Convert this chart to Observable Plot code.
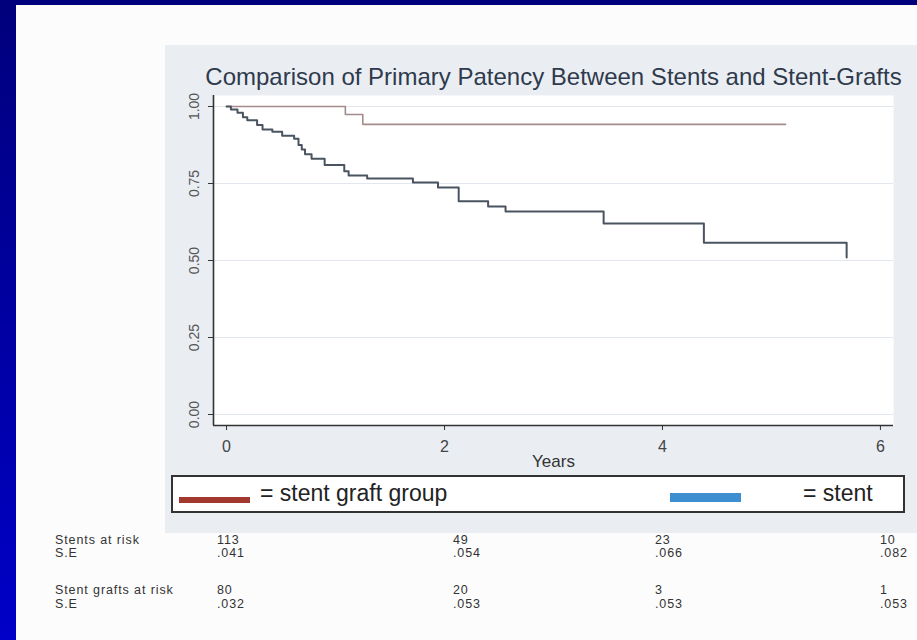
<!DOCTYPE html>
<html>
<head>
<meta charset="utf-8">
<script src="https://cdn.jsdelivr.net/npm/d3@7"></script>
<script src="https://cdn.jsdelivr.net/npm/@observablehq/plot@0.6"></script>
<style>
  html, body { margin: 0; padding: 0; width: 917px; height: 640px; overflow: hidden; background: #fff; }
  body { font-family: "Liberation Sans", Arial, sans-serif; }
  #page { position: relative; width: 917px; height: 640px; background: #fcfcfd; }
  .edge-left { position: absolute; left: 0; top: 0; width: 16px; height: 640px; background: linear-gradient(#00007c, #0000c8); }
  .edge-top { position: absolute; left: 0; top: 0; width: 917px; height: 5px; background: #00007c; }
  .region { position: absolute; left: 165px; top: 45px; width: 752px; height: 488px; background: #eaeef3; }
  #chart { position: absolute; left: 0; top: 0; }
  .legend { position: absolute; left: 171px; top: 475px; width: 730px; height: 34px; border: 2px solid #333; background: #fff; }
  .legend .sw { position: absolute; }
  .legend .lbl { position: absolute; font-size: 23px; color: #222; top: 3px; white-space: nowrap; }
  .risk { position: absolute; font-size: 12.5px; letter-spacing: 0.9px; color: #333; white-space: nowrap; line-height: 13px; }
</style>
</head>
<body>
<div id="page">
  <div class="edge-left"></div>
  <div class="edge-top"></div>
  <div class="region"></div>
  <div id="chart"></div>
  <div class="legend" id="legend"></div>
  <div id="risk"></div>
</div>
<script>
// Kaplan–Meier estimates: time of each event (years) and survival after it
const stentTime = [0, 0.04, 0.10, 0.15, 0.19, 0.28, 0.33, 0.42, 0.51, 0.62, 0.66, 0.69, 0.72, 0.78, 0.90, 1.08, 1.12, 1.29, 1.71, 1.94, 2.13, 2.40, 2.56, 3.46, 4.38, 5.69];
const stentSurv = [1.0, 0.99, 0.98, 0.965, 0.955, 0.94, 0.925, 0.918, 0.905, 0.895, 0.875, 0.86, 0.845, 0.83, 0.81, 0.79, 0.776, 0.766, 0.753, 0.737, 0.692, 0.675, 0.659, 0.620, 0.558, 0.510];
const graftTime = [0, 1.09, 1.25, 5.13];
const graftSurv = [1.0, 0.974, 0.942, 0.942];

// Axis ticks
const xTicks = [0, 2, 4, 6];
const yTicks = [0, 0.25, 0.5, 0.75, 1];

// Legend entries
const seriesNames = ["= stent graft group", "= stent"];
const seriesColors = ["#a3382f", "#3d8fd1"];

// Numbers at risk and standard errors at 0, 2, 4, 6 years
const riskLabels = ["Stents at risk", "S.E", "Stent grafts at risk", "S.E"];
const stentsAtRisk = [113, 49, 23, 10];
const stentSE = [".041", ".054", ".066", ".082"];
const graftsAtRisk = [80, 20, 3, 1];
const graftSE = [".032", ".053", ".053", ".053"];

const title = "Comparison of Primary Patency Between Stents and Stent-Grafts";

const stent = stentTime.map((t, i) => ({t, s: stentSurv[i]}));
const graft = graftTime.map((t, i) => ({t, s: graftSurv[i]}));

const xDomain = [-0.12, 6.12];
const yDomain = [-0.0357, 1.0357];

const chart = Plot.plot({
  width: 917,
  height: 640,
  marginLeft: 213,
  marginRight: 24,
  marginTop: 95,
  marginBottom: 215,
  style: { background: "transparent", fontFamily: "Liberation Sans, Arial, sans-serif", overflow: "visible" },
  x: { domain: xDomain, axis: null },
  y: { domain: yDomain, axis: null },
  marks: [
    Plot.frame({ fill: "white", stroke: "none" }),
    Plot.gridY(yTicks, { stroke: "#e2e7ee", strokeOpacity: 1, strokeWidth: 1.2 }),
    Plot.axisY(yTicks, { tickFormat: d3.format(".2f"), tickRotate: -90, tickSize: 5, tickPadding: 10, fontSize: 14, stroke: "#333", fill: "#555", label: null }),
    Plot.axisX(xTicks, { tickSize: 5, tickPadding: 10, fontSize: 16, stroke: "#333", fill: "#444", label: null }),
    Plot.ruleX([xDomain[0]], { stroke: "#333", strokeWidth: 1.6 }),
    Plot.ruleY([yDomain[0]], { stroke: "#333", strokeWidth: 1.6 }),
    Plot.line(graft, { x: "t", y: "s", curve: "step-after", stroke: "#a48c8c", strokeWidth: 1.6 }),
    Plot.line(stent, { x: "t", y: "s", curve: "step-after", stroke: "#4a5461", strokeWidth: 2 }),
    Plot.text([title], { text: d => d, frameAnchor: "top", lineAnchor: "middle", dy: -18, fontSize: 24, fill: "#2f3a4c" }),
    Plot.text(["Years"], { text: d => d, frameAnchor: "bottom", lineAnchor: "middle", dy: 36, fontSize: 17, fill: "#333" })
  ]
});
document.getElementById("chart").append(chart);

// Legend row
const legend = d3.select("#legend");
const swatches = [{ left: 6, top: 20, h: 6 }, { left: 497, top: 16, h: 9 }];
const labelLeft = [87, 630];
seriesNames.forEach((name, i) => {
  legend.append("div").attr("class", "sw")
    .style("left", swatches[i].left + "px").style("top", swatches[i].top + "px")
    .style("width", "71px").style("height", swatches[i].h + "px")
    .style("background", seriesColors[i]);
  legend.append("div").attr("class", "lbl").style("left", labelLeft[i] + "px").text(name);
});

// Risk table below the chart
const risk = d3.select("#risk");
const rowTops = [534, 547, 584, 598];
const rows = [stentsAtRisk, stentSE, graftsAtRisk, graftSE];
const colLeft = [217, 453, 655, 880];
riskLabels.forEach((lab, r) => {
  risk.append("div").attr("class", "risk").style("left", "55px").style("top", rowTops[r] + "px").text(lab);
  rows[r].forEach((v, c) => {
    risk.append("div").attr("class", "risk").style("left", colLeft[c] + "px").style("top", rowTops[r] + "px").text(v);
  });
});
</script>
</body>
</html>
